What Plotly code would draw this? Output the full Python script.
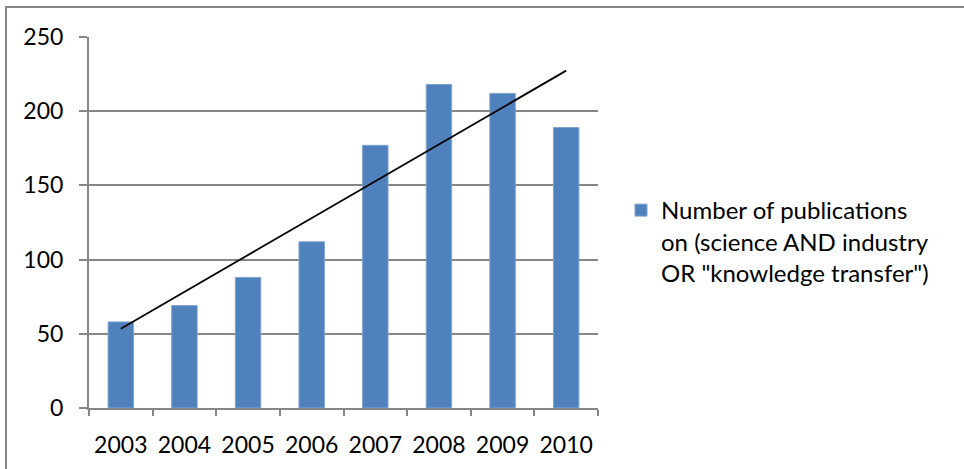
import numpy as np
import plotly.graph_objects as go

years = ["2003", "2004", "2005", "2006", "2007", "2008", "2009", "2010"]
publications = [58, 69, 88, 112, 177, 218, 212, 189]
series_name = 'Number of publications<br>on (science AND industry<br>OR "knowledge transfer")'
y_ticks = [0, 50, 100, 150, 200, 250]

# linear trendline (least squares) from the data
idx = np.arange(len(years))
slope, intercept = np.polyfit(idx, publications, 1)
trend = slope * idx + intercept

FONT = "Lato"
GRAY = "#868686"
BLUE = "#4F81BD"

fig = go.Figure()
fig.add_trace(go.Bar(
    x=years, y=publications, name=series_name,
    marker=dict(color=BLUE, line=dict(color="#7FA3CF", width=1)),
    showlegend=True,
))
fig.add_trace(go.Scatter(
    x=[years[0], years[-1]], y=[trend[0], trend[-1]],
    mode="lines", line=dict(color="black", width=1.8),
    showlegend=False, hoverinfo="skip",
))

W, H = 964, 469
L, R, T, B = 89, 598, 37, 408
fig.update_layout(
    width=W, height=H,
    margin=dict(l=L, r=W - R, t=T, b=H - B, pad=0),
    paper_bgcolor="white", plot_bgcolor="white",
    font=dict(family=FONT, size=23, color="black"),
    bargap=0.6,
    legend=dict(
        x=(621 - L) / (R - L), y=(408 - 188) / (B - T),
        xanchor="left", yanchor="top",
        valign="top", tracegroupgap=0,
        font=dict(family=FONT, size=24, color="black"),
        itemwidth=30,
        bgcolor="rgba(0,0,0,0)",
    ),
    xaxis=dict(
        type="category", showline=True, linecolor=GRAY, linewidth=2,
        ticks="outside", tickson="boundaries", ticklen=6, tickwidth=2, tickcolor=GRAY,
        showgrid=False, ticklabelstandoff=15,
    ),
    yaxis=dict(
        range=[0, 250], tickvals=y_ticks, showline=True, linecolor=GRAY, linewidth=2,
        ticks="outside", ticklen=8, tickwidth=2, tickcolor=GRAY,
        showgrid=True, gridcolor=GRAY, gridwidth=2, zeroline=False,
        ticklabelstandoff=11,
    ),
    shapes=[dict(
        type="rect", xref="paper", yref="paper",
        x0=(6 - L) / (R - L), x1=3.0,
        y0=-3.0, y1=(B - 7) / (B - T),
        line=dict(color=GRAY, width=2), fillcolor="rgba(0,0,0,0)", layer="below",
    )],
)

fig.write_html("out.html")
